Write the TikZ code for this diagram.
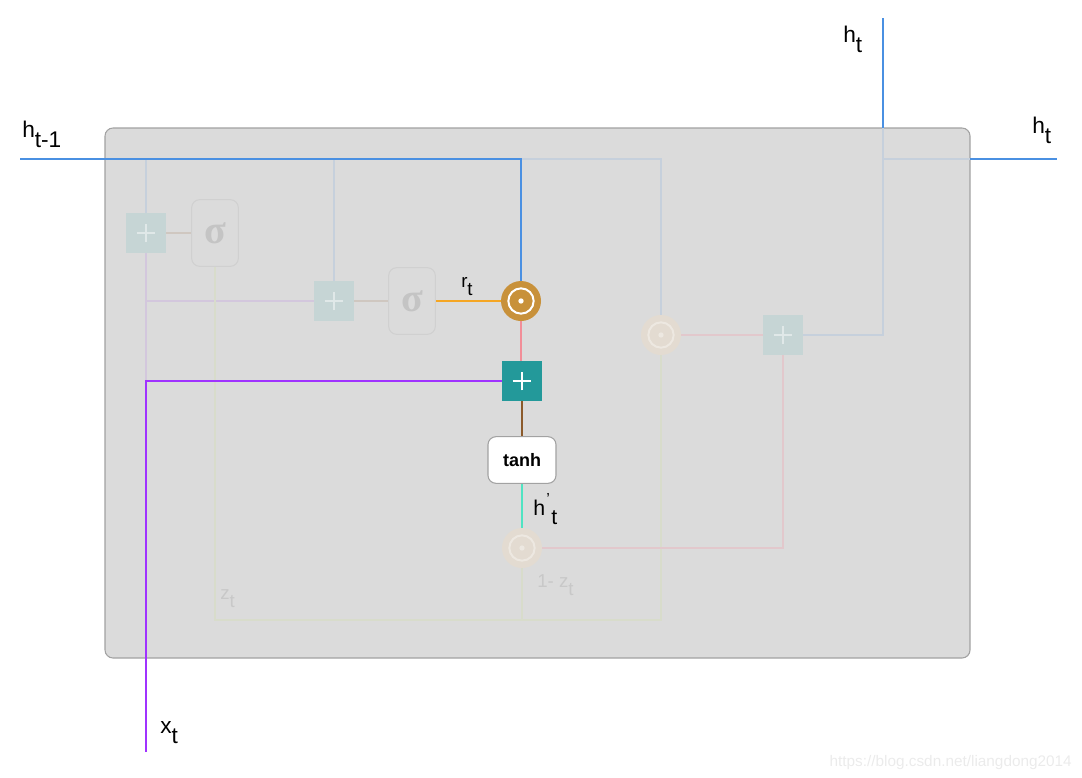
\documentclass[tikz,border=0pt]{standalone}
\usepackage{fontspec}
\setmainfont{Liberation Sans}
\newfontfamily\sigfont{Liberation Serif}
\pgfdeclarelayer{bg}
\pgfsetlayers{bg,main}
\definecolor{hblue}{HTML}{4A90E2}
\definecolor{fblue}{HTML}{C6D0DC}
\definecolor{purp}{HTML}{A033FF}
\definecolor{fpurp}{HTML}{D3C7DD}
\definecolor{orng}{HTML}{F5A623}
\definecolor{odotc}{HTML}{C8913A}
\definecolor{pinkc}{HTML}{F28E98}
\definecolor{fpink}{HTML}{E2C8CC}
\definecolor{tealc}{HTML}{23999A}
\definecolor{brownc}{HTML}{8B5A2B}
\definecolor{fbrown}{HTML}{CFC7C0}
\definecolor{mint}{HTML}{50E3C2}
\definecolor{fgreen}{HTML}{D8DCCB}
\definecolor{boxbg}{HTML}{DBDBDB}
\definecolor{boxbd}{HTML}{A2A2A2}
\definecolor{fplus}{HTML}{C6D5D5}
\definecolor{fplusc}{HTML}{E0E8E8}
\definecolor{fodot}{HTML}{E3DBD1}
\definecolor{fodotr}{HTML}{EDE8E1}
\definecolor{sigc}{HTML}{C4C4C4}
\definecolor{sigbd}{HTML}{D0D0D0}
\definecolor{ftext}{HTML}{C8C8C8}
\definecolor{wmark}{HTML}{EBEBEB}
\newcommand{\subt}[2]{#1\raisebox{-0.45em}{#2}}
\begin{document}
\begin{tikzpicture}[x=0.75pt,y=-0.75pt,
  wire/.style={line width=1.6pt},
  fwire/.style={line width=1.4pt},
  plusf/.style={rectangle,fill=fplus,minimum width=30pt,minimum height=30pt,inner sep=0pt},
  plusb/.style={rectangle,fill=tealc,minimum width=30pt,minimum height=30pt,inner sep=0pt},
  sigbox/.style={rectangle,rounded corners=6pt,draw=sigbd,line width=0.8pt,fill=boxbg,minimum width=35pt,minimum height=50pt,inner sep=0pt,text=sigc,font=\sigfont\bfseries\fontsize{30}{30}\selectfont},
  odotb/.style={circle,fill=odotc,minimum size=30pt,inner sep=0pt},
  odotf/.style={circle,fill=fodot,minimum size=30pt,inner sep=0pt},
  tanhbox/.style={rectangle,rounded corners=6pt,draw=boxbd,line width=0.8pt,fill=white,minimum width=51pt,minimum height=35pt,inner sep=0pt,font=\fontsize{13.5}{14}\selectfont\bfseries},
  lbl/.style={anchor=base west,inner sep=0pt,font=\fontsize{17}{17}\selectfont},
  slbl/.style={anchor=base west,inner sep=0pt,font=\fontsize{14}{14}\selectfont},
  flbl/.style={anchor=base west,inner sep=0pt,text=ftext,font=\fontsize{14}{14}\selectfont}
]
\useasboundingbox (0,0) rectangle (1082,778);

% nodes
\node[plusf] (p1) at (146,233) {};
\node[sigbox] (s1) at (215,233) {σ};
\node[plusf] (p2) at (334,301) {};
\node[sigbox] (s2) at (412,301) {σ};
\node[odotb] (o1) at (521,301) {};
\node[plusb] (p3) at (522,381) {};
\node[tanhbox] (th) at (522,460) {tanh};
\node[odotf] (o2) at (522,548) {};
\node[odotf] (o3) at (661,335) {};
\node[plusf] (p4) at (783,335) {};

\coordinate (hin) at (20,159);
\coordinate (hj) at (883,159);
\coordinate (htop) at (883,18);
\coordinate (hright) at (1057,159);
\coordinate (htopb) at (883,128);
\coordinate (hrb) at (970,159);
\coordinate (xin) at (146,752);
\coordinate (zb) at (661,620);
\coordinate (pj) at (146,381);

% plus signs and odot decorations
\foreach \n/\c in {p1/fplusc,p2/fplusc,p3/white,p4/fplusc}{
  \draw[\c,line width=2pt] ([xshift=-7pt]\n.center) -- ([xshift=7pt]\n.center);
  \draw[\c,line width=2pt] ([yshift=-7pt]\n.center) -- ([yshift=7pt]\n.center);
}
\draw[white,line width=1.5pt] (o1.center) circle (9.5pt);
\fill[white] (o1.center) circle (2pt);
\draw[fodotr,line width=1.5pt] (o2.center) circle (9.5pt);
\fill[fodotr] (o2.center) circle (2pt);
\draw[fodotr,line width=1.5pt] (o3.center) circle (9.5pt);
\fill[fodotr] (o3.center) circle (2pt);

\begin{pgfonlayer}{bg}
  \draw[boxbd,fill=boxbg,line width=0.8pt,rounded corners=6pt] (105,128) rectangle (970,658);
  % faint blue
  \draw[fblue,fwire] (p1.north |- hin) -- (p1.north);
  \draw[fblue,fwire] (p2.north |- hin) -- (p2.north);
  \draw[fblue,fwire] (o1.north |- hin) -| (o3.north);
  \draw[fblue,fwire] (p4.east) -| (hj) -- (hrb);
  \draw[fblue,fwire] (hj) -- (htopb);
  % faint purple
  \draw[fpurp,fwire] (p1.south) -- (pj);
  \draw[fpurp,fwire] (p2.west) -- (p2.west -| pj);
  % faint brown
  \draw[fbrown,fwire] (p1.east) -- (s1.west);
  \draw[fbrown,fwire] (p2.east) -- (s2.west);
  % faint green
  \draw[fgreen,fwire] (s1.south) |- (zb) -- (o3.south);
  \draw[fgreen,fwire] (o2.south) -- (o2.south |- zb);
  % faint pink
  \draw[fpink,fwire] (o2.east) -| (p4.south);
  \draw[fpink,fwire] (o3.east) -- (p4.west);
  % bright wires
  \draw[hblue,wire] (hin) -| (o1.north);
  \draw[hblue,wire] (htopb) -- (htop);
  \draw[hblue,wire] (hrb) -- (hright);
  \draw[purp,wire] (xin) |- (p3.west);
  \draw[orng,wire] (s2.east) -- (o1.west);
  \draw[pinkc,wire] (o1.south) -- (o1.south |- p3.north);
  \draw[brownc,wire] (p3.south) -- (th.north);
  \draw[mint,wire] (th.south) -- (o2.north);
\end{pgfonlayer}

% labels
\node[lbl] (lhin) at (22,137) {\subt{h}{t-1}};
\node[lbl] (lhtop) at (843,42) {\subt{h}{t}};
\node[lbl] (lhr) at (1032,133) {\subt{h}{t}};
\node[lbl] (lx) at (160,733) {\subt{x}{t}};
\node[slbl] (lr) at (461,287) {\subt{r}{t}};
\node[slbl,font=\fontsize{16}{16}\selectfont] (lh) at (533,515) {h\raisebox{0.5em}{\fontsize{12}{12}\selectfont\kern1pt'}\kern1pt\raisebox{-0.45em}{t}};
\node[flbl] (lz) at (220,599) {\subt{z}{t}};
\node[flbl] (l1z) at (537,587) {1- \subt{z}{t}};
\node[anchor=base east,inner sep=0pt,text=wmark,font=\fontsize{11.5}{12}\selectfont] (wm) at (1072,766) {https://blog.csdn.net/liangdong2014};
\end{tikzpicture}
\end{document}
